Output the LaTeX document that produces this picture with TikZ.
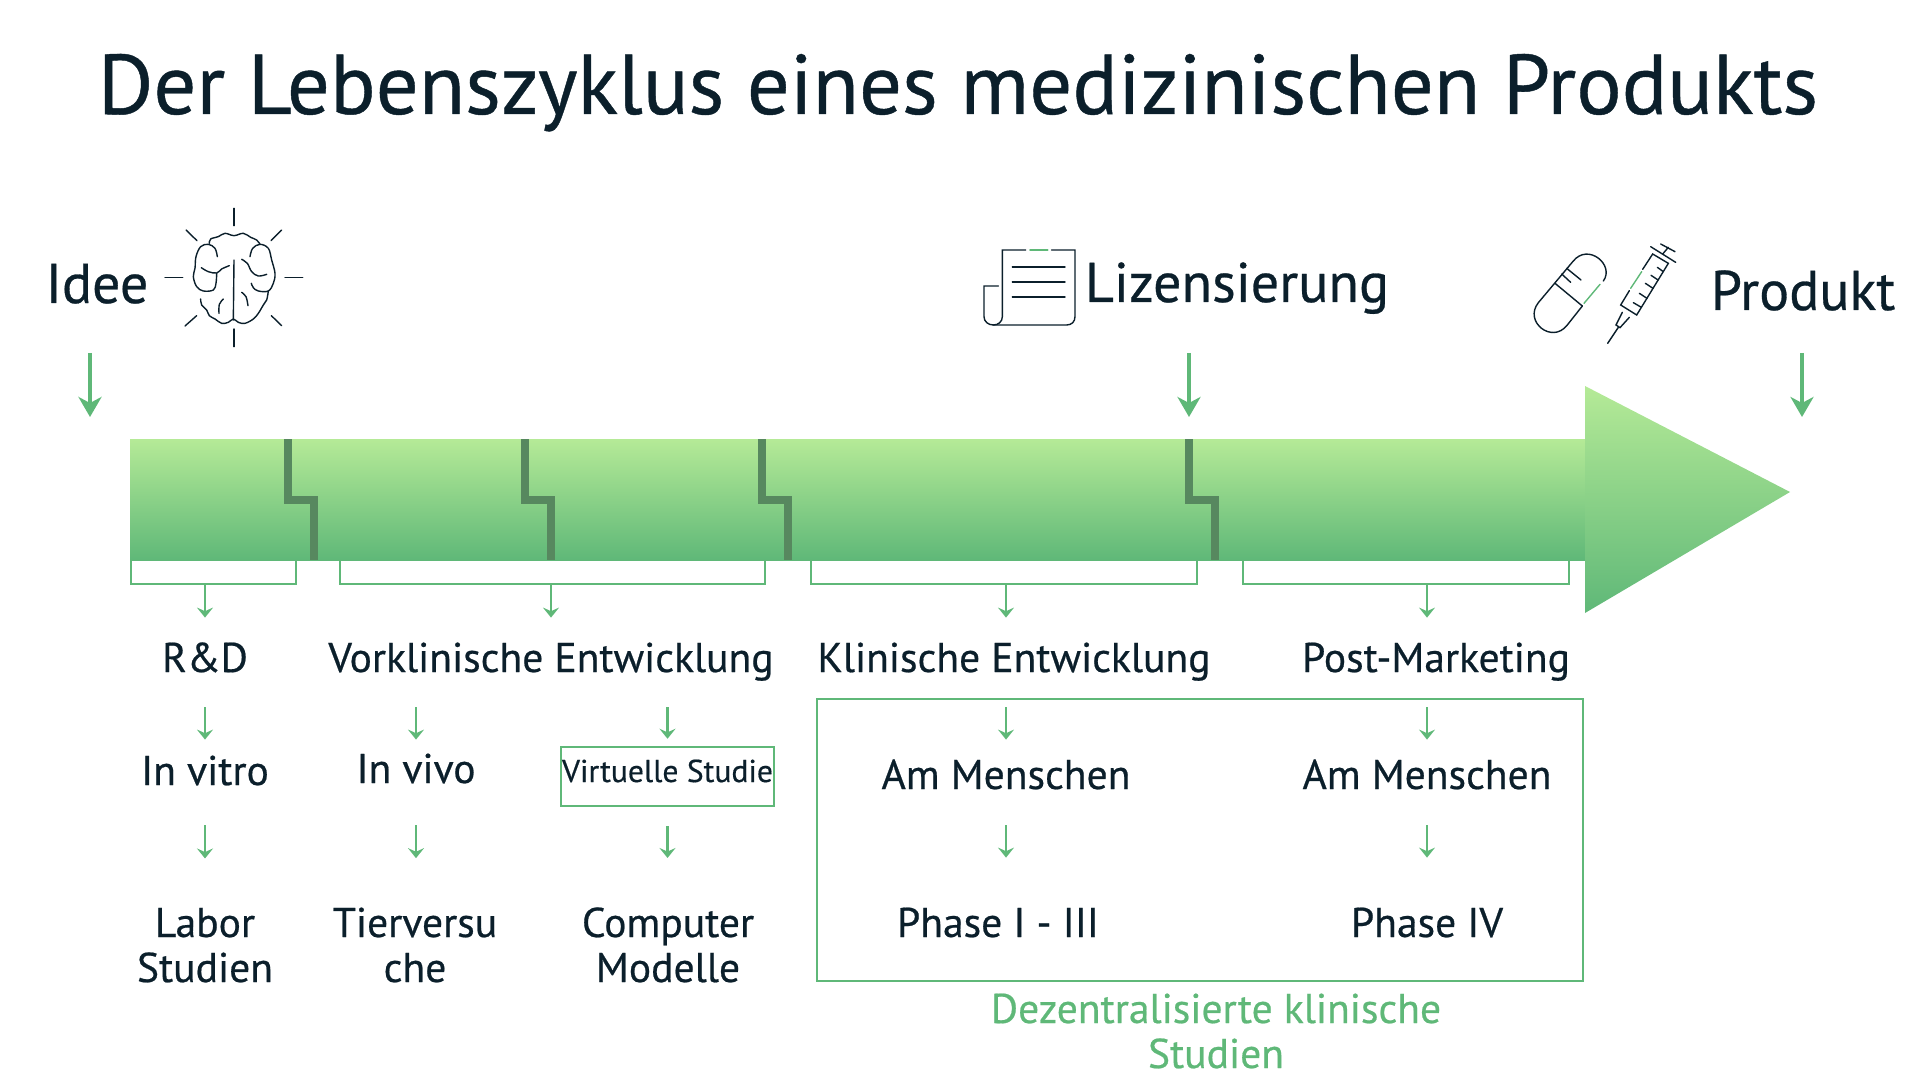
\documentclass[tikz,border=0pt]{standalone}
\usepackage{fontspec}
\setmainfont[FakeBold=0.5]{PT Sans}
\usetikzlibrary{arrows.meta}
\definecolor{inkdark}{HTML}{0B1F2B}
\definecolor{leaf}{HTML}{5FB878}
\definecolor{leaflight}{HTML}{B5EA97}
\definecolor{leafdark}{HTML}{57885F}
\tikzset{
  lbl/.style={anchor=base,inner sep=0pt,text=inkdark,font=\fontsize{20.8}{22.5}\selectfont,text height=15pt,text depth=5pt},
  lblmulti/.style={anchor=base,inner sep=0pt,text=inkdark,font=\fontsize{20.8}{22.5}\selectfont,align=center},
  headlbl/.style={anchor=base,inner sep=0pt,text=inkdark,font=\fontsize{28}{30}\selectfont},
  bigflow/.style={draw=leaf,line width=1.8pt,-{Stealth[length=10pt,width=11.5pt,inset=3pt]}},
  flow/.style 2 args={draw=leaf,line width=1.1pt,-{Stealth[length=5pt,width=8pt,inset=1.8pt]},shorten <=#1,shorten >=#2},
  bracket/.style={draw=leaf,line width=1.25pt},
  icon/.style={draw=inkdark,line width=0.7pt,line cap=round},
  iconaccent/.style={draw=leaf,line width=0.7pt,line cap=round},
  stair/.style={draw=leafdark,line width=4pt}
}
\begin{document}
\begin{tikzpicture}[x=0.5pt,y=-0.5pt]
  \useasboundingbox (0,0) rectangle (1920,1080);

  % Title
  \node[anchor=base,inner sep=0pt,text=inkdark,font=\fontsize{42.4}{48}\selectfont] (title) at (958,114) {Der Lebenszyklus eines medizinischen Produkts};

  % Main arrow
  \shade[top color=leaflight,bottom color=leaf] (130,439) rectangle (1586,560);
  \shade[top color=leaflight,bottom color=leaf] (1585,386) -- (1790,492) -- (1585,613) -- cycle;
  \foreach \sx in {288,525,762,1189} {
    \draw[stair] (\sx,439) -- (\sx,500) -- (\sx+26,500) -- (\sx+26,560);
  }

  % Brackets under the arrow
  \foreach \xl/\xr/\xm/\brname in {131/296/205/brrd,340/765/551/brvor,811/1197/1006/brkli,1243/1569/1427/brpost} {
    \draw[bracket] (\xl,560) -- (\xl,584) -- (\xr,584) -- (\xr,560);
    \coordinate (\brname) at (\xm,584);
  }

  % Milestones
  \node[headlbl] (idee) at (97,303) {Idee};
  \node[headlbl] (lizenz) at (1237,302) {Lizensierung};
  \node[headlbl] (produkt) at (1803,310) {Produkt};
  \coordinate (ideetop) at (90,353);
  \coordinate (ideeend) at (90,417);
  \coordinate (liztop) at (1189,353);
  \coordinate (lizend) at (1189,417);
  \coordinate (prodtop) at (1802,353);
  \coordinate (prodend) at (1802,417);
  \draw[bigflow] (ideetop) -- (ideeend);
  \draw[bigflow] (liztop) -- (lizend);
  \draw[bigflow] (prodtop) -- (prodend);

  % Phases
  \node[lbl] (rd) at (205,672) {R\&D};
  \node[lbl] (vor) at (551,672) {Vorklinische Entwicklung};
  \node[lbl] (kli) at (1014,672) {Klinische Entwicklung};
  \node[lbl] (post) at (1436,672) {Post-Marketing};

  % Second row
  \node[lbl] (vitro) at (205,785) {In vitro};
  \node[lbl] (vivo) at (416,783) {In vivo};
  \node[anchor=base,inner sep=0pt,draw=leaf,line width=1.25pt,text=inkdark,font=\fontsize{15.8}{18}\selectfont,minimum width=106.5pt,text height=17.5pt,text depth=12pt] (virt) at (667.5,782) {Virtuelle Studie};
  \node[lbl] (menschA) at (1006,789) {Am Menschen};
  \node[lbl] (menschB) at (1427,789) {Am Menschen};

  % Third row
  \node[lblmulti] (labor) at (205,982) {Labor\\Studien};
  \node[lblmulti] (tier) at (415,982) {Tierversu\\che};
  \node[lblmulti] (comp) at (668,982) {Computer\\Modelle};
  \node[lbl] (phaseA) at (998,937) {Phase I - III};
  \node[lbl] (phaseB) at (1427,937) {Phase IV};

  % Frame for the decentralised part
  \node[draw=leaf,line width=1.4pt,inner sep=0pt,minimum width=383pt,minimum height=141pt] (dezbox) at (1200,840) {};
  \node[lblmulti,text=leaf] (dez) at (1216,1068) {Dezentralisierte klinische\\Studien};

  % Connectors
  \draw[flow={0pt}{12pt}] (brrd) -- (rd.north);
  \draw[flow={0pt}{12pt}] (brvor) -- (vor.north);
  \draw[flow={0pt}{12pt}] (brkli) -- (brkli |- kli.north);
  \draw[flow={0pt}{12pt}] (brpost) -- (brpost |- post.north);
  \draw[flow={12.5pt}{7.5pt}] (rd.south) -- (vitro.north);
  \draw[flow={12.5pt}{6.5pt}] (vor.south -| vivo.north) -- (vivo.north);
  \draw[flow={12.5pt}{3.5pt}] (vor.south -| virt.north) -- (virt.north);
  \draw[flow={12.5pt}{9.5pt}] (kli.south -| menschA.north) -- (menschA.north);
  \draw[flow={12.5pt}{9.5pt}] (post.south -| menschB.north) -- (menschB.north);
  \draw[flow={15pt}{24.5pt}] (vitro.south) -- (labor.north);
  \draw[flow={16pt}{24.5pt}] (vivo.south) -- (vivo.south |- tier.north);
  \draw[flow={9.5pt}{24.5pt}] (virt.south) -- (virt.south |- comp.north);
  \draw[flow={13pt}{24.5pt}] (menschA.south) -- (menschA.south |- phaseA.north);
  \draw[flow={13pt}{24.5pt}] (menschB.south) -- (menschB.south |- phaseB.north);

  % Brain icon
  \begin{scope}[shift={(160,205)},scale=1/3]
    \foreach \ax/\ay/\bx/\by in {222/10/222/62,222/372/222/425,15/218/68/218,375/218/428/218,78/75/111/107,365/75/333/107,75/363/110/332,365/362/334/332} {
      \draw[icon] (\ax,\ay) -- (\bx,\by);
    }
    \draw[icon] plot[smooth,tension=0.6] coordinates {(148,115) (152,102) (175,95) (195,85) (222,92) (250,85) (272,97) (290,105) (300,118)};
    \draw[icon] plot[smooth,tension=0.6] coordinates {(172,155) (165,130) (145,118) (122,125) (108,155) (105,190) (100,215) (110,245) (130,258) (160,255) (168,235) (170,205)};
    \draw[icon] plot[smooth,tension=0.6] coordinates {(124,188) (145,200) (170,204) (185,192) (208,182)};
    \draw[icon] (222,165) -- (220,345);
    \draw[icon] plot[smooth,tension=0.6] coordinates {(270,155) (278,130) (300,118) (325,130) (335,165) (345,205) (340,235) (325,258) (295,258) (280,248) (274,235)};
    \draw[icon] plot[smooth,tension=0.6] coordinates {(245,163) (262,175) (275,200) (295,213) (320,208)};
    \draw[icon] plot[smooth,tension=0.6] coordinates {(122,282) (125,300) (140,315) (148,332) (165,342) (185,355) (205,352) (220,342) (235,352) (255,355) (280,342) (295,325) (310,300) (320,285) (325,258)};
    \draw[icon] plot[smooth,tension=0.6] coordinates {(190,282) (178,298) (177,325)};
    \draw[icon] plot[smooth,tension=0.6] coordinates {(245,262) (258,275) (264,302)};
  \end{scope}

  % Document icon
  \begin{scope}[shift={(970,240)},scale=1/3]
    \draw[icon] (167,30) -- (97,30) -- (97,230) .. controls (97,245) and (85,255) .. (70,255) .. controls (55,255) and (42,245) .. (42,230) -- (42,138) -- (85,138);
    \draw[icon] (70,255) -- (290,255) .. controls (305,255) and (315,245) .. (315,230) -- (315,30) -- (245,30);
    \draw[iconaccent,line width=1pt] (180,30) -- (233,30);
    \foreach \ly in {81,126,171} {
      \draw[icon] (127,\ly) -- (285,\ly);
    }
  \end{scope}

  % Pill and syringe icons
  \begin{scope}[shift={(1520,230)},scale=1/3]
    \draw[icon] (250,153) .. controls (285,105) and (204,37) .. (159,94) -- (55,218) .. controls (10,275) and (96,343) .. (141,286) -- (187,228);
    \draw[icon] (105,160) -- (187,228);
    \draw[iconaccent] (192,220) -- (240,163);
    \draw[icon] (125,132) -- (152,157);
    \draw[icon] (140,115) -- (183,150);
    % syringe
    \draw[icon] (368,118) -- (398,72) -- (445,100) -- (350,255) -- (302,225) -- (328,182);
    \draw[iconaccent] (332,175) -- (365,125);
    \draw[icon] (392,50) -- (467,97);
    \draw[icon] (422,42) -- (465,65);
    \draw[icon] (428,72) -- (445,52);
    \foreach \tx/\ty/\ux/\uy in {430/125/412/112,414/150/393/136,399/175/376/160,381/205/358/190,364/232/340/218} {
      \draw[icon] (\tx,\ty) -- (\ux,\uy);
    }
    \draw[icon] (307,247) -- (288,285) -- (300,293) -- (328,262);
    \draw[icon] (295,292) -- (263,340);
  \end{scope}
\end{tikzpicture}
\end{document}
